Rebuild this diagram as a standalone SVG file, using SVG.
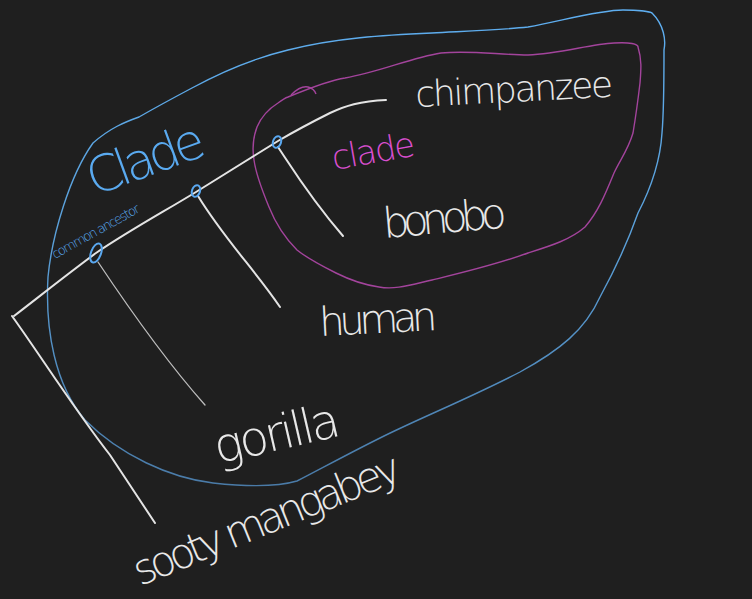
<svg xmlns="http://www.w3.org/2000/svg" width="752" height="599" viewBox="0 0 752 599">
<defs>
<linearGradient id="og" x1="0" y1="0" x2="0" y2="1">
<stop offset="0" stop-color="#5eaef0"/>
<stop offset="0.5" stop-color="#5a9fd8"/>
<stop offset="1" stop-color="#4a7ba8"/>
</linearGradient>
</defs>
<style>
.bg{fill:#1f1f1f}
.tree{fill:none;stroke:#e4e4e4;stroke-width:2;stroke-linecap:round;stroke-linejoin:round}
.thin{fill:none;stroke:#bdbdbd;stroke-width:1.3;stroke-linecap:round}
.outer{fill:none;stroke:url(#og);stroke-width:1.4}
.inner{fill:none;stroke:#a3449c;stroke-width:1.4}
.node{fill:none;stroke:#5aa8f0;stroke-width:2}
.lbl{font-family:"DejaVu Sans","Liberation Sans",sans-serif;font-weight:200;fill:#e8e8e8}
.blue{font-family:"DejaVu Sans","Liberation Sans",sans-serif;font-weight:200;fill:#5aaaf0}
.pink{font-family:"DejaVu Sans","Liberation Sans",sans-serif;font-weight:200;fill:#d94fcf}
</style>
<rect class="bg" width="752" height="599"/>
<g id="clade-outer">
<path class="outer" d="M48,277 C52,235 70,175 93,143 C110,128 125,122 139,117 C160,105 175,97 192,88 C225,70 255,58 288,50 C335,38 385,35 432,33 C470,31 500,30 528,27 C565,20 600,10 623,10 C640,10 650,12 652,13 C664,25 666,40 664,50 C664,80 664,110 662,133 C660,165 650,190 638,213 C625,250 612,275 600,297 C585,330 560,350 520,372 C470,398 420,418 380,438 C340,458 315,472 297,481 C280,486 250,487 213,483 C170,478 120,455 85,420 C55,385 45,330 48,277 Z"/>
<text class="blue" font-size="50" transform="translate(94,196) rotate(-20)" textLength="122">Clade</text>
</g>
<g id="clade-inner">
<path class="inner" d="M288,97 C310,88 330,80 345,78 C380,72 410,58 441,53 C470,50 500,55 528,55 C560,54 590,44 614,43 C630,42 638,44 638,47 C642,60 641,70 640,83 C638,100 636,115 633,133 C628,150 620,160 614,173 C605,195 598,212 585,227 C570,240 550,246 528,253 C495,265 465,272 432,280 C410,285 395,290 379,287 C365,285 350,280 336,273 C320,265 307,258 297,250 C285,238 275,222 269,207 C262,190 256,175 254,160 C252,148 254,135 257,127 C262,115 270,108 278,103 C282,100 285,98 288,97 Z"/>
<path class="inner" d="M291,95 C296,90 303,86 308,87 C312,88 315,91 316,94"/>
<text class="pink" font-size="34" transform="translate(334,170) rotate(-10)" textLength="84">clade</text>
</g>
<g id="connectors">
<path class="tree" d="M14,316 C40,296 65,276 96,253 C130,230 165,211 196,192 C225,174 252,157 278,141 C295,131 312,122 330,113 C345,106 360,101 386,100"/>
<path class="tree" d="M12,316 C40,355 75,410 110,455 C125,478 140,500 155,523"/>
<path class="thin" d="M98,262 C130,310 165,360 205,405"/>
<path class="tree" d="M198,196 C225,240 255,270 280,307"/>
<path class="tree" d="M278,147 C292,168 310,198 343,236"/>
</g>
<g id="ancestor-1">
<ellipse class="node" cx="96" cy="253" rx="5" ry="10" transform="rotate(20 96 253)"/>
<text class="blue" font-size="13" transform="translate(55,259) rotate(-29)" textLength="98">common ancestor</text>
</g>
<g id="ancestor-2">
<ellipse class="node" cx="196" cy="191" rx="4" ry="6" transform="rotate(20 196 191)"/>
</g>
<g id="ancestor-3">
<ellipse class="node" cx="277" cy="142" rx="4" ry="6" transform="rotate(20 277 142)"/>
</g>
<g id="chimpanzee">
<text class="lbl" font-size="36" transform="translate(416,107) rotate(-3)" textLength="198">chimpanzee</text>
</g>
<g id="bonobo">
<text class="lbl" font-size="42" transform="translate(384,238) rotate(-5)" textLength="124">bonobo</text>
</g>
<g id="human">
<text class="lbl" font-size="40" transform="translate(320,336) rotate(-3)" textLength="118">human</text>
</g>
<g id="gorilla">
<text class="lbl" font-size="48" transform="translate(218,464) rotate(-13)" textLength="128">gorilla</text>
</g>
<g id="sooty-mangabey">
<text class="lbl" font-size="42" transform="translate(140,586) rotate(-22)" textLength="285">sooty mangabey</text>
</g>
</svg>
